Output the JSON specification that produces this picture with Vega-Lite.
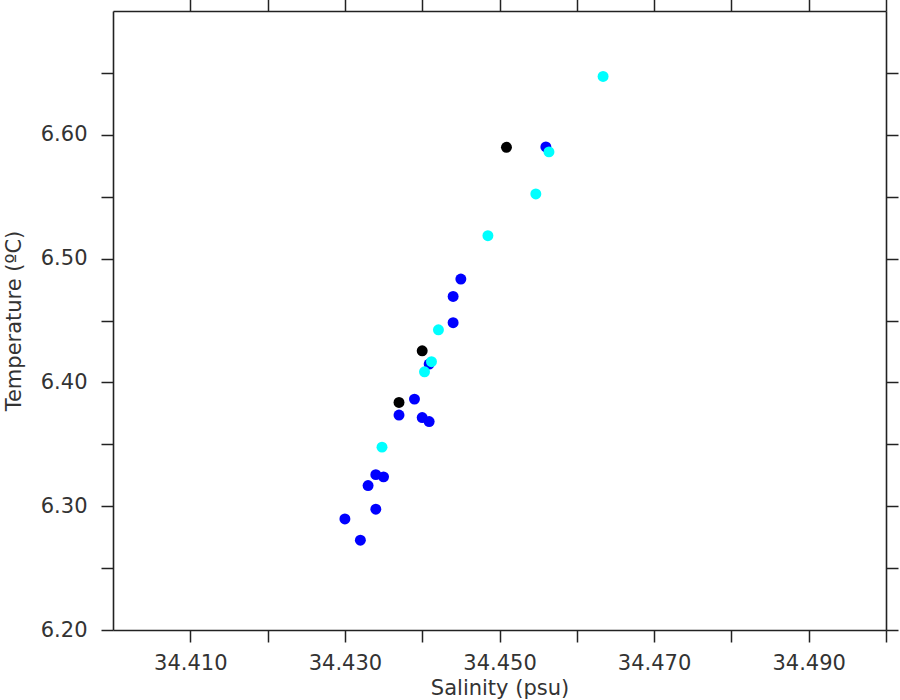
{
  "$schema": "https://vega.github.io/schema/vega-lite/v6.json",
  "width": 773,
  "height": 619,
  "autosize": {"type": "none"},
  "padding": {"left": 113, "top": 11, "right": 14, "bottom": 70},
  "background": "white",
  "config": {
    "view": {"stroke": null},
    "axis": {
      "grid": false,
      "domainColor": "#222",
      "domainWidth": 1.6,
      "tickColor": "#222",
      "tickWidth": 1.5,
      "tickSize": 12,
      "labelFont": "DejaVu Sans",
      "labelFontSize": 21,
      "labelColor": "#333",
      "titleFont": "DejaVu Sans",
      "titleFontSize": 21,
      "titleFontWeight": "normal",
      "titleColor": "#333"
    }
  },
  "data": {
    "values": [
      {"salinity": 34.4300, "temperature": 6.2897, "group": "blue"},
      {"salinity": 34.4320, "temperature": 6.2725, "group": "blue"},
      {"salinity": 34.4330, "temperature": 6.3167, "group": "blue"},
      {"salinity": 34.4340, "temperature": 6.3255, "group": "blue"},
      {"salinity": 34.4350, "temperature": 6.3237, "group": "blue"},
      {"salinity": 34.4340, "temperature": 6.2976, "group": "blue"},
      {"salinity": 34.4370, "temperature": 6.3736, "group": "blue"},
      {"salinity": 34.4390, "temperature": 6.3865, "group": "blue"},
      {"salinity": 34.4400, "temperature": 6.3716, "group": "blue"},
      {"salinity": 34.4409, "temperature": 6.3684, "group": "blue"},
      {"salinity": 34.4409, "temperature": 6.4148, "group": "blue"},
      {"salinity": 34.4440, "temperature": 6.4482, "group": "blue"},
      {"salinity": 34.4440, "temperature": 6.4694, "group": "blue"},
      {"salinity": 34.4450, "temperature": 6.4835, "group": "blue"},
      {"salinity": 34.4560, "temperature": 6.5902, "group": "blue"},
      {"salinity": 34.4348, "temperature": 6.3477, "group": "cyan"},
      {"salinity": 34.4403, "temperature": 6.4086, "group": "cyan"},
      {"salinity": 34.4412, "temperature": 6.4167, "group": "cyan"},
      {"salinity": 34.4421, "temperature": 6.4425, "group": "cyan"},
      {"salinity": 34.4485, "temperature": 6.5185, "group": "cyan"},
      {"salinity": 34.4547, "temperature": 6.5522, "group": "cyan"},
      {"salinity": 34.4564, "temperature": 6.5862, "group": "cyan"},
      {"salinity": 34.4634, "temperature": 6.6471, "group": "cyan"},
      {"salinity": 34.4370, "temperature": 6.3838, "group": "black"},
      {"salinity": 34.4400, "temperature": 6.4255, "group": "black"},
      {"salinity": 34.4509, "temperature": 6.5899, "group": "black"}
    ]
  },
  "layer": [
    {
      "mark": {"type": "circle", "size": 120, "opacity": 1},
      "encoding": {
        "x": {
          "field": "salinity",
          "type": "quantitative",
          "scale": {"domain": [34.40, 34.50], "nice": false, "zero": false},
          "axis": {
            "orient": "bottom",
            "title": "Salinity (psu)",
            "values": [34.41, 34.42, 34.43, 34.44, 34.45, 34.46, 34.47, 34.48, 34.49, 34.50],
            "format": ".3f",
            "labelExpr": "round(datum.value * 1000) % 20 == 10 ? datum.label : ''",
            "labelPadding": 10,
            "labelFlush": false,
            "labelOverlap": false,
            "titleX": 386.5,
            "titleY": 64,
            "titleBaseline": "alphabetic",
            "titleAlign": "center"
          }
        },
        "y": {
          "field": "temperature",
          "type": "quantitative",
          "scale": {"domain": [6.20, 6.70], "nice": false, "zero": false},
          "axis": {
            "orient": "left",
            "title": "Temperature (ºC)",
            "values": [6.20, 6.25, 6.30, 6.35, 6.40, 6.45, 6.50, 6.55, 6.60, 6.65],
            "format": ".2f",
            "labelExpr": "round(datum.value * 100) % 10 == 0 ? datum.label : ''",
            "labelPadding": 14,
            "labelFlush": false,
            "labelOverlap": false,
            "titleAngle": 270,
            "titleX": -93,
            "titleY": 309.5,
            "titleBaseline": "alphabetic",
            "titleAlign": "center"
          }
        },
        "color": {
          "field": "group",
          "type": "nominal",
          "scale": {"domain": ["blue", "cyan", "black"], "range": ["#0000ff", "#00ffff", "#000000"]},
          "legend": null
        }
      }
    },
    {
      "mark": {"type": "circle", "opacity": 0},
      "encoding": {
        "x": {
          "field": "salinity",
          "type": "quantitative",
          "axis": {
            "orient": "top",
            "title": null,
            "labels": false,
            "values": [34.41, 34.42, 34.43, 34.44, 34.45, 34.46, 34.47, 34.48, 34.49, 34.50]
          }
        },
        "y": {
          "field": "temperature",
          "type": "quantitative",
          "axis": {
            "orient": "right",
            "title": null,
            "labels": false,
            "values": [6.20, 6.25, 6.30, 6.35, 6.40, 6.45, 6.50, 6.55, 6.60, 6.65]
          }
        }
      }
    }
  ],
  "resolve": {"axis": {"x": "independent", "y": "independent"}}
}
